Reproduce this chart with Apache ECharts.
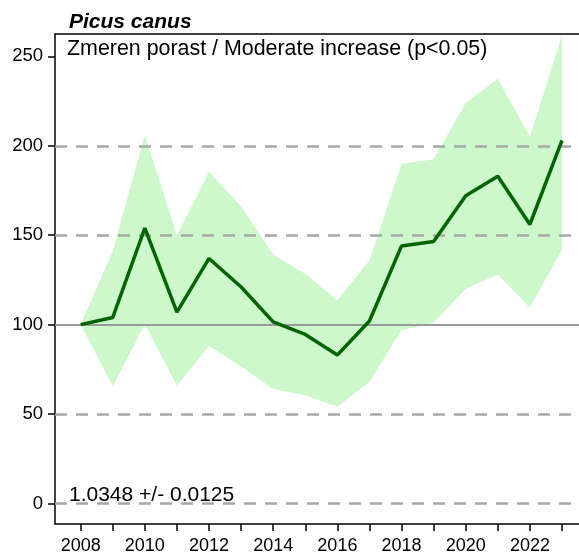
<!DOCTYPE html>
<html>
<head>
<meta charset="utf-8">
<script src="https://cdn.jsdelivr.net/npm/echarts@6/dist/echarts.min.js"></script>
<style>
  html, body { margin: 0; padding: 0; background: #fff; }
  #chart { width: 579px; height: 555px; }
</style>
</head>
<body>
<div id="chart"></div>
<script>
// 数据
var years = [2008, 2009, 2010, 2011, 2012, 2013, 2014, 2015, 2016, 2017, 2018, 2019, 2020, 2021, 2022, 2023];
var index = [100, 104, 154, 107, 137, 121, 101.5, 94.5, 83, 102, 144, 146.5, 172, 183, 156, 203];
var upper = [100, 141, 206, 150, 185.5, 166, 139, 128.5, 113.5, 136, 190, 192.5, 224, 237.5, 205, 262];
var lower = [100, 65.5, 100, 66, 88, 76.5, 64, 60.5, 54, 68, 97, 101, 120, 128, 109.5, 142];
var yTicks = [0, 50, 100, 150, 200, 250];
var xTicks = [2008, 2009, 2010, 2011, 2012, 2013, 2014, 2015, 2016, 2017, 2018, 2019, 2020, 2021, 2022, 2023];
var xLabels = [2008, 2010, 2012, 2014, 2016, 2018, 2020, 2022];

var chart = echarts.init(document.getElementById('chart'));

var pairs = function (arr) {
  return years.map(function (y, i) { return [y, arr[i]]; });
};
var dash = { color: '#a8a8a8', type: [12, 9], width: 2.5 };

var option = {
  animation: false,
  textStyle: { fontFamily: 'Liberation Sans, Arial, sans-serif' },
  grid: { left: 55, right: 0, top: 34, bottom: 31 },
  graphic: [
    { type: 'text', left: 69, top: 12, style: { text: 'Picus canus', font: 'italic bold 21px Liberation Sans', fill: '#000' } },
    { type: 'text', left: 67, top: 39, style: { text: 'Zmeren porast / Moderate increase (p<0.05)', font: '21.4px Liberation Sans', fill: '#000' } },
    { type: 'text', left: 69, top: 485, style: { text: '1.0348 +/- 0.0125', font: '21px Liberation Sans', fill: '#000' } }
  ],
  xAxis: [{
    type: 'value',
    min: 2007.2,
    max: 2023.53,
    axisLine: { onZero: false, lineStyle: { color: '#000', width: 1.5 } },
    axisTick: { show: true, length: 7, lineStyle: { color: '#000', width: 1.5 }, customValues: xTicks },
    axisLabel: {
      customValues: xLabels, color: '#000', fontSize: 18, margin: 13,
      formatter: function (v) { return String(v); }
    },
    splitLine: { show: false }
  }, {
    type: 'value',
    position: 'top',
    min: 2007.2,
    max: 2023.53,
    axisLine: { show: true, onZero: false, lineStyle: { color: '#000', width: 1.5 } },
    axisTick: { show: false },
    axisLabel: { show: false },
    splitLine: { show: false }
  }],
  yAxis: {
    type: 'value',
    min: -11.5,
    max: 262.5,
    axisLine: { show: true, onZero: false, lineStyle: { color: '#000', width: 1.5 } },
    axisTick: { show: true, length: 7, lineStyle: { color: '#000', width: 1.5 }, customValues: yTicks },
    axisLabel: { customValues: yTicks, color: '#000', fontSize: 18.5, margin: 12 },
    splitLine: { show: false }
  },
  series: [
    {
      // 置信区间
      type: 'custom',
      data: pairs(upper),
      silent: true,
      z: 1,
      renderItem: function (params, api) {
        if (params.dataIndex !== 0) return;
        var pts = [];
        for (var i = 0; i < years.length; i++) pts.push(api.coord([years[i], upper[i]]));
        for (var j = years.length - 1; j >= 0; j--) pts.push(api.coord([years[j], lower[j]]));
        return { type: 'polygon', shape: { points: pts }, style: { fill: '#ccf8cc' } };
      }
    },
    {
      // 指数
      type: 'line',
      data: pairs(index),
      symbol: 'none',
      lineStyle: { color: '#006400', width: 3.5 },
      z: 5,
      markLine: {
        silent: true,
        symbol: 'none',
        label: { show: false },
        z: 2,
        data: [
          { yAxis: 0, lineStyle: dash },
          { yAxis: 50, lineStyle: dash },
          { yAxis: 150, lineStyle: dash },
          { yAxis: 200, lineStyle: dash },
          { yAxis: 100, lineStyle: { color: '#999', type: 'solid', width: 2 } }
        ]
      }
    }
  ]
};

chart.setOption(option);
</script>
</body>
</html>
